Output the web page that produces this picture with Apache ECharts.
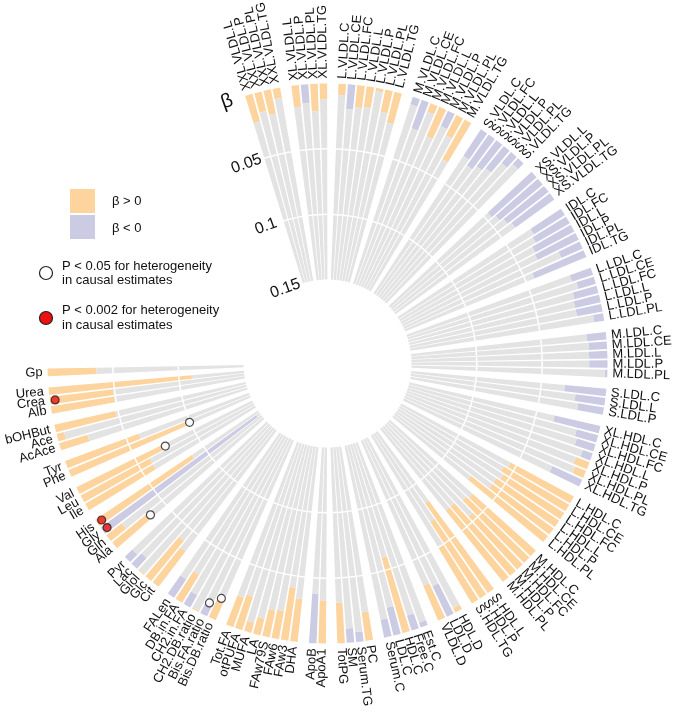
<!DOCTYPE html>
<html>
<head>
<meta charset="utf-8">
<script src="https://cdn.jsdelivr.net/npm/echarts@6/dist/echarts.min.js"></script>
<style>html,body{margin:0;padding:0;background:#fff}#chart{width:675px;height:712px}</style>
</head>
<body>
<div id="chart"></div>
<script>
// ---- data ('' = gap between groups) ----
const labels = [
 'XXL.VLDL.L','XXL.VLDL.P','XXL.VLDL.PL','XXL.VLDL.TG','',
 'XL.VLDL.L','XL.VLDL.P','XL.VLDL.PL','XL.VLDL.TG','',
 'L.VLDL.C','L.VLDL.CE','L.VLDL.FC','L.VLDL.L','L.VLDL.P','L.VLDL.PL','L.VLDL.TG','',
 'M.VLDL.C','M.VLDL.CE','M.VLDL.FC','M.VLDL.L','M.VLDL.P','M.VLDL.PL','M.VLDL.TG','',
 'S.VLDL.C','S.VLDL.FC','S.VLDL.L','S.VLDL.P','S.VLDL.PL','S.VLDL.TG','',
 'XS.VLDL.L','XS.VLDL.P','XS.VLDL.PL','XS.VLDL.TG','',
 'IDL.C','IDL.FC','IDL.L','IDL.P','IDL.PL','IDL.TG','',
 'L.LDL.C','L.LDL.CE','L.LDL.FC','L.LDL.L','L.LDL.P','L.LDL.PL','',
 'M.LDL.C','M.LDL.CE','M.LDL.L','M.LDL.P','M.LDL.PL','',
 'S.LDL.C','S.LDL.L','S.LDL.P','',
 'XL.HDL.C','XL.HDL.CE','XL.HDL.FC','XL.HDL.L','XL.HDL.P','XL.HDL.PL','XL.HDL.TG','',
 'L.HDL.C','L.HDL.CE','L.HDL.FC','L.HDL.L','L.HDL.P','L.HDL.PL','',
 'M.HDL.C','M.HDL.CE','M.HDL.FC','M.HDL.P','M.HDL.PL','',
 'S.HDL.L','S.HDL.P','S.HDL.TG','',
 'HDL.D','LDL.D','VLDL.D','',
 'Est.C','Free.C','HDL.C','LDL.C','Serum.C','',
 'PC','Serum.TG','SM','TotPG','',
 'ApoA1','ApoB','',
 'DHA','FAw3','FAw6','FAw79S','LA','MUFA','otPUFA','Tot.FA','',
 'Bis.DB.ratio','Bis.FA.ratio','CH2.DB.ratio','CH2.in.FA','DB.in.FA','FALen','',
 'Cit','Glc','Glol','Lac','Pyr','',
 'Ala','Gln','Gly','His','',
 'Ile','Leu','Val','',
 'Phe','Tyr','',
 'AcAce','Ace','bOHBut','',
 'Alb','Crea','Urea','',
 'Gp'
];
const beta = [
 0.022, 0.0155, 0.019, 0.008, null,
 0.0166, -0.0146, 0.021, 0.0123, null,
 0.0084, -0.019, 0.017, 0.016, 0.0026, 0.0174, 0.0245, null,
 -0.006, -0.023, 0.007, 0.0245, -0.013, 0.0175, 0.035, null,
 -0.0245, -0.029, -0.025, -0.022, -0.011, -0.006, null,
 -0.046, -0.043, -0.040, -0.037, null,
 -0.028, -0.030, -0.034, -0.035, -0.018, -0.043, null,
 -0.017, -0.014, -0.019, -0.020, -0.020, -0.0077, null,
 -0.015, -0.014, -0.014, -0.014, -0.002, null,
 -0.032, -0.023, -0.020, null,
 -0.036, -0.017, -0.015, -0.008, 0.011, 0.009, -0.025, null,
 0.055, 0.058, 0.055, 0.058, 0.058, 0.075, null,
 0.065, 0.067, 0.055, 0.070, 0.070, null,
 0.084, 0.070, 0.050, null,
 0.004, -0.026, 0.029, null,
 -0.004, -0.012, 0.060, -0.022, -0.014, null,
 0.022, -0.0077, -0.011, 0.031, null,
 0.033, -0.038, null,
 0.033, 0.041, 0.022, 0.021, 0.013, 0.008, 0.027, 0.024, null,
 0.016, -0.0097, 0.001, -0.011, 0.025, -0.017, null,
 0.034, 0.040, 0.001, -0.011, -0.008, null,
 0.034, 0.015, -0.147, 0.089, null,
 0.060, 0.060, 0.073, null,
 0.096, 0.060, null,
 0.0226, 0.006, 0.048, null,
 0.049, 0.049, 0.110, null,
 0.0375
];
const BETA_MAX = 0.15;
// heterogeneity markers: metabolite, level, position on the beta axis
const markerNames = ['Crea', 'His', 'Gly', 'Phe', 'Val', 'Ala', 'Bis.FA.ratio', 'Bis.DB.ratio'];
const markerLevel = ['0.002', '0.002', '0.002', '0.05', '0.05', '0.05', '0.05', '0.05'];
const markerPos = [0.004, 0.004, 0.004, 0.0995, 0.075, 0.036, 0.010, 0.017];

// ---- styling ----
const ORANGE = '#FDD49E', PURPLE = '#CBCBE4', GRAY = '#E3E3E3';
const FONT = '"Liberation Sans", Arial, Helvetica, sans-serif';
const TAIL = 38; // empty slots of the opening at the top-left
const cats = labels.concat(new Array(TAIL).fill(''));

const valData = cats.map((c, i) => {
  if (c === '' || i >= beta.length || beta[i] == null) return null;
  const b = beta[i];
  return { value: Math.abs(b), itemStyle: { color: b >= 0 ? ORANGE : PURPLE } };
});
const restData = cats.map((c, i) => {
  if (c === '' || i >= beta.length || beta[i] == null) return null;
  return BETA_MAX - Math.min(Math.abs(beta[i]), BETA_MAX);
});
const labelData = [];
cats.forEach((c, i) => { if (c !== '') labelData.push([0, i]); });
const openData = [], redData = [];
markerNames.forEach((n, k) => {
  const idx = labels.indexOf(n);
  (markerLevel[k] === '0.002' ? redData : openData).push([markerPos[k], idx]);
});

const chart = echarts.init(document.getElementById('chart'));
chart.setOption({
  animation: false,
  backgroundColor: '#fff',
  polar: { center: [327.5, 363.5], radius: [84, 280] },
  angleAxis: {
    type: 'category', data: cats, startAngle: 107.3, clockwise: true, boundaryGap: true,
    axisLine: { show: false }, axisTick: { show: false }, axisLabel: { show: false },
    splitLine: { show: false }
  },
  radiusAxis: {
    type: 'value', min: 0, max: BETA_MAX, interval: 0.05, inverse: true, z: 10,
    axisLine: { show: false }, axisTick: { show: false },
    splitLine: { show: true, lineStyle: { color: ['rgba(0,0,0,0)', '#fff', '#fff', 'rgba(0,0,0,0)'], width: 1.5 } },
    axisLabel: {
      margin: 18, rotate: 20, align: 'center', color: '#111', fontSize: 16, fontFamily: FONT,
      formatter: v => v === 0 ? '{b|β}' : String(v),
      rich: { b: { fontSize: 20, fontFamily: FONT, color: '#111' } }
    }
  },
  series: [
    { type: 'bar', coordinateSystem: 'polar', data: valData, stack: 'b', barWidth: '80%',
      silent: true, z: 2 },
    { type: 'bar', coordinateSystem: 'polar', data: restData, stack: 'b', barWidth: '80%',
      itemStyle: { color: GRAY }, silent: true, z: 2 },
    { type: 'custom', coordinateSystem: 'polar', data: labelData, z: 20, silent: true,
      encode: { radius: 0, angle: 1 },
      renderItem: function (params, api) {
        const i = api.value(1);
        const p = api.coord([0, i]);
        const cs = params.coordSys;
        const dx = p[0] - cs.cx, dy = p[1] - cs.cy;
        const r = Math.sqrt(dx * dx + dy * dy);
        const off = 5;
        const x = cs.cx + dx / r * (r + off), y = cs.cy + dy / r * (r + off);
        const rot = Math.atan2(-dy, dx);
        const compass = (Math.atan2(dx, -dy) * 180 / Math.PI + 360) % 360;
        const flip = compass > 180 && compass < 335;
        return {
          type: 'text', x: x, y: y, rotation: flip ? rot + Math.PI : rot,
          style: { text: cats[i], align: flip ? 'right' : 'left', verticalAlign: 'middle',
                   fontSize: 13, fontFamily: FONT, fill: '#111' }
        };
      }
    },
    { type: 'scatter', coordinateSystem: 'polar', data: openData, symbol: 'circle', symbolSize: 8,
      itemStyle: { color: '#fff', borderColor: '#222', borderWidth: 1.2 }, z: 21, silent: true },
    { type: 'scatter', coordinateSystem: 'polar', data: redData, symbol: 'circle', symbolSize: 8,
      itemStyle: { color: '#EE1111', borderColor: '#222', borderWidth: 1.2 }, z: 21, silent: true }
  ],
  graphic: [
    { type: 'rect', z: 100, shape: { x: 70, y: 189, width: 25, height: 24 }, style: { fill: ORANGE } },
    { type: 'rect', z: 100, shape: { x: 70, y: 215, width: 25, height: 24 }, style: { fill: PURPLE } },
    { type: 'text', z: 100, x: 112, y: 201, style: { text: 'β > 0', fontSize: 13, fontFamily: FONT, fill: '#111', verticalAlign: 'middle' } },
    { type: 'text', z: 100, x: 112, y: 228, style: { text: 'β < 0', fontSize: 13, fontFamily: FONT, fill: '#111', verticalAlign: 'middle' } },
    { type: 'circle', z: 100, shape: { cx: 46, cy: 273, r: 6.5 }, style: { fill: '#fff', stroke: '#222', lineWidth: 1.2 } },
    { type: 'text', z: 100, x: 62, y: 259.5, style: { text: 'P < 0.05 for heterogeneity\nin causal estimates', fontSize: 13, lineHeight: 14, fontFamily: FONT, fill: '#111' } },
    { type: 'circle', z: 100, shape: { cx: 46, cy: 318, r: 6.5 }, style: { fill: '#EE1111', stroke: '#222', lineWidth: 1.2 } },
    { type: 'text', z: 100, x: 62, y: 303.5, style: { text: 'P < 0.002 for heterogeneity\nin causal estimates', fontSize: 13, lineHeight: 14.5, fontFamily: FONT, fill: '#111' } }
  ]
});
</script>
</body>
</html>
